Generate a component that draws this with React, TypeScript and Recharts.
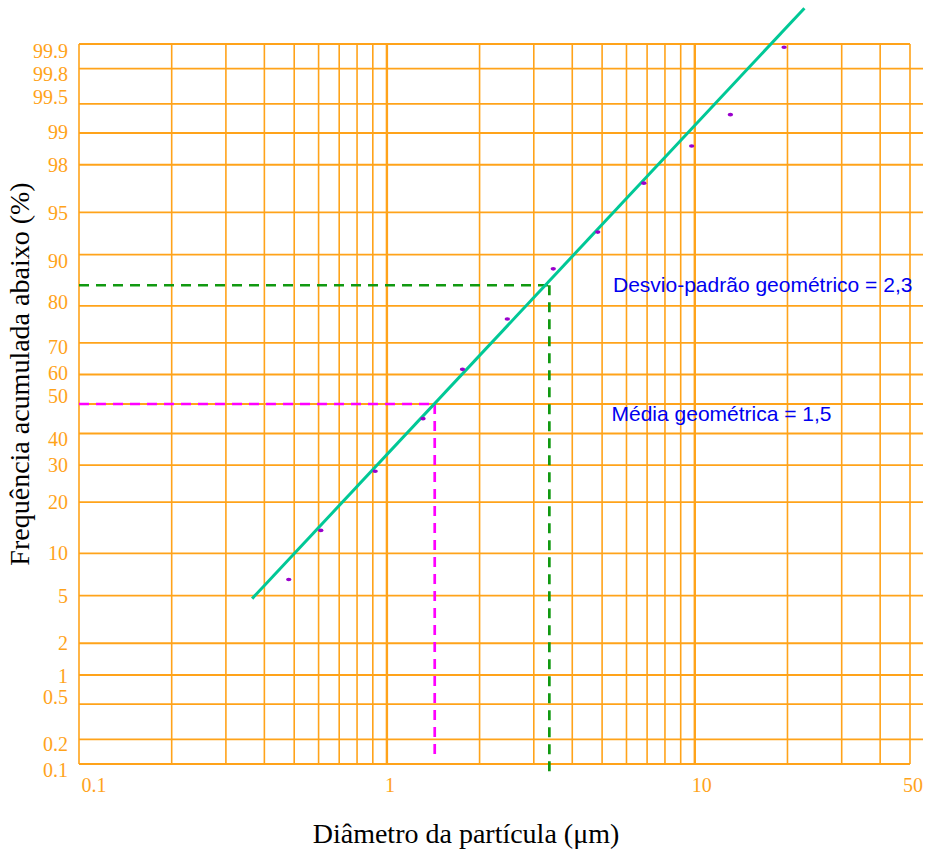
import React from 'react';
import {
  ComposedChart,
  XAxis,
  YAxis,
  CartesianGrid,
  Scatter,
  ReferenceLine,
  Customized,
} from 'recharts';

// Measured points: particle diameter (µm) and cumulative frequency below (%)
const diameters = [0.48, 0.61, 0.916, 1.31, 1.76, 2.46, 3.47, 4.84, 6.83, 9.77, 13.05, 19.5];
const cumulativePct = [6.6, 13.9, 28.2, 45.0, 61.7, 76.7, 87.7, 93.0, 97.1, 98.66, 99.35, 99.89];

// Fitted straight line (end points)
const fitDiameters = [0.365, 22.7];
const fitPct = [4.74, 99.966];

// Geometric mean (50 %) and the 84 % point used for the geometric std. deviation
const meanDiameter = 1.43;
const meanPct = 50;
const sigmaDiameter = 3.37;
const sigmaPct = 84.6;

// Axis ticks
const xTicks = [0.1, 0.2, 0.3, 0.4, 0.5, 0.6, 0.7, 0.8, 0.9, 1, 2, 3, 4, 5, 6, 7, 8, 9, 10, 20, 30, 40, 50];
const xTickLabels = ['0.1', '1', '10', '50'];
const yTickLabels = ['0.1', '0.2', '0.5', '1', '2', '5', '10', '20', '30', '40', '50', '60', '70', '80', '90', '95', '98', '99', '99.5', '99.8', '99.9'];

const xTitle = 'Diâmetro da partícula (μm)';
const yTitle = 'Frequência acumulada abaixo (%)';
const meanText = 'Média geométrica = 1,5';
const sigmaText = 'Desvio-padrão geométrico = 2,3';

const ORANGE = '#FFA31A';

// inverse standard normal CDF (Acklam) -> probability paper axis
function probit(p: number): number {
  const a = [-3.969683028665376e1, 2.209460984245205e2, -2.759285104469687e2, 1.38357751867269e2, -3.066479806614716e1, 2.506628277459239];
  const b = [-5.447609879822406e1, 1.615858368580409e2, -1.556989798598866e2, 6.680131188771972e1, -1.328068155288572e1];
  const c = [-7.784894002430293e-3, -3.223964580411365e-1, -2.400758277161838, -2.549732539343734, 4.374664141464968, 2.938163982698783];
  const d = [7.784695709041462e-3, 3.224671290700398e-1, 2.445134137142996, 3.754408661907416];
  const pl = 0.02425;
  if (p < pl) {
    const q = Math.sqrt(-2 * Math.log(p));
    return (((((c[0] * q + c[1]) * q + c[2]) * q + c[3]) * q + c[4]) * q + c[5]) / ((((d[0] * q + d[1]) * q + d[2]) * q + d[3]) * q + 1);
  }
  if (p <= 1 - pl) {
    const q = p - 0.5;
    const r = q * q;
    return ((((((a[0] * r + a[1]) * r + a[2]) * r + a[3]) * r + a[4]) * r + a[5]) * q) / (((((b[0] * r + b[1]) * r + b[2]) * r + b[3]) * r + b[4]) * r + 1);
  }
  const q = Math.sqrt(-2 * Math.log(1 - p));
  return -(((((c[0] * q + c[1]) * q + c[2]) * q + c[3]) * q + c[4]) * q + c[5]) / ((((d[0] * q + d[1]) * q + d[2]) * q + d[3]) * q + 1);
}
const z = (pct: number) => probit(pct / 100);

const points = diameters.map((d, i) => ({ d, z: z(cumulativePct[i]) }));
const yTicks = yTickLabels.map((l) => z(parseFloat(l)));
const yDomain = [yTicks[0], yTicks[yTicks.length - 1]];

// small label nudges (as in the hand-laid reference)
const yLabelNudge: Record<string, number> = {
  '99.9': 7, '99.8': 5, '99.5': -7, '99': -1, '90': 6, '80': -4, '70': 4, '60': -2, '50': -8, '40': 5, '1': 1, '0.5': -7, '0.2': 5, '0.1': 6,
};
const xLabelNudge: Record<string, number> = { '0.1': 15, '1': 3, '10': 7, '50': 3 };

const YTick = (props: any) => {
  const { x, y, index } = props;
  const label = yTickLabels[index];
  return (
    <text x={x} y={y + (yLabelNudge[label] || 0)} dy="0.36em" textAnchor="end" fill={ORANGE}
      fontFamily="Liberation Serif, Times New Roman, serif" fontSize={20}>
      {label}
    </text>
  );
};

const XTick = (props: any) => {
  const { x, y, payload } = props;
  const label = String(payload.value);
  if (!xTickLabels.includes(label)) return <g />;
  return (
    <text x={x + (xLabelNudge[label] || 0)} y={y} dy="0.71em" textAnchor="middle" fill={ORANGE}
      fontFamily="Liberation Serif, Times New Roman, serif" fontSize={20}>
      {label}
    </text>
  );
};

const hLine = (props: any) => {
  const { x1, x2, y1, y2, index } = props;
  const isBorder = index === 0 || index === yTicks.length - 1;
  return <line key={`h-${index}`} x1={x1} x2={isBorder ? x2 : x2 + 13} y1={y1} y2={y2} stroke={ORANGE} strokeWidth={1.8} />;
};

const vLine = (props: any) => {
  const { x1, x2, y1, y2, index } = props;
  const v = xTicks[index];
  const thick = v === 1 || v === 10;
  return <line key={`v-${index}`} x1={x1} x2={x2} y1={y1} y2={y2} stroke={ORANGE} strokeWidth={thick ? 2.4 : 1.6} />;
};

const Dot = (props: any) => (
  <ellipse cx={props.cx} cy={props.cy} rx={2.7} ry={1.8} fill="#9A00CC" />
);

const Texts = () => (
  <g>
    <text x={28.5} y={374} transform="rotate(-90, 28.5, 374)" textAnchor="middle" fill="#000"
      fontFamily="Liberation Serif, Times New Roman, serif" fontSize={28}>
      {yTitle}
    </text>
    <text x={466} y={843} textAnchor="middle" fill="#000"
      fontFamily="Liberation Serif, Times New Roman, serif" fontSize={28}>
      {xTitle}
    </text>
    <text x={613} y={292} fill="#0000F0" fontFamily="Liberation Sans, Arial, sans-serif" fontSize={21}>
      {sigmaText}
    </text>
    <text x={611.5} y={421} fill="#0000F0" fontFamily="Liberation Sans, Arial, sans-serif" fontSize={21}>
      {meanText}
    </text>
  </g>
);

export default function App() {
  return (
    <div style={{ position: 'absolute', left: 0, top: 0, background: '#fff' }}>
      <ComposedChart width={929} height={858} data={points} margin={{ top: 44, right: 19, bottom: 64, left: 19 }}>
        <CartesianGrid horizontal={hLine} vertical={vLine} />
        <XAxis dataKey="d" type="number" scale="log" domain={[0.1, 50]} ticks={xTicks} interval={0}
          allowDataOverflow axisLine={false} tickLine={false} tickSize={6} tickMargin={8} height={30} tick={<XTick />} />
        <YAxis type="number" domain={yDomain} ticks={yTicks} interval={0} allowDataOverflow
          axisLine={false} tickLine={false} tickSize={6} tickMargin={5} width={60} tick={<YTick />} />
        <ReferenceLine segment={[{ x: 0.1, y: z(meanPct) }, { x: meanDiameter, y: z(meanPct) }]}
          stroke="#FF00FF" strokeWidth={2.7} strokeDasharray="10 7" ifOverflow="visible" />
        <ReferenceLine segment={[{ x: meanDiameter, y: z(meanPct) }, { x: meanDiameter, y: z(0.12) }]}
          stroke="#FF00FF" strokeWidth={2.7} strokeDasharray="10 7" ifOverflow="visible" />
        <ReferenceLine segment={[{ x: 0.1, y: z(sigmaPct) }, { x: sigmaDiameter, y: z(sigmaPct) }]}
          stroke="#119911" strokeWidth={2.7} strokeDasharray="10 7" ifOverflow="visible" />
        <ReferenceLine segment={[{ x: sigmaDiameter, y: z(sigmaPct) }, { x: sigmaDiameter, y: z(0.075) }]}
          stroke="#119911" strokeWidth={2.7} strokeDasharray="10 7" ifOverflow="visible" />
        <ReferenceLine segment={[{ x: fitDiameters[0], y: z(fitPct[0]) }, { x: fitDiameters[1], y: z(fitPct[1]) }]}
          stroke="#00C896" strokeWidth={3} ifOverflow="visible" />
        <Scatter dataKey="z" shape={<Dot />} isAnimationActive={false} />
        <Customized component={Texts} />
      </ComposedChart>
    </div>
  );
}
